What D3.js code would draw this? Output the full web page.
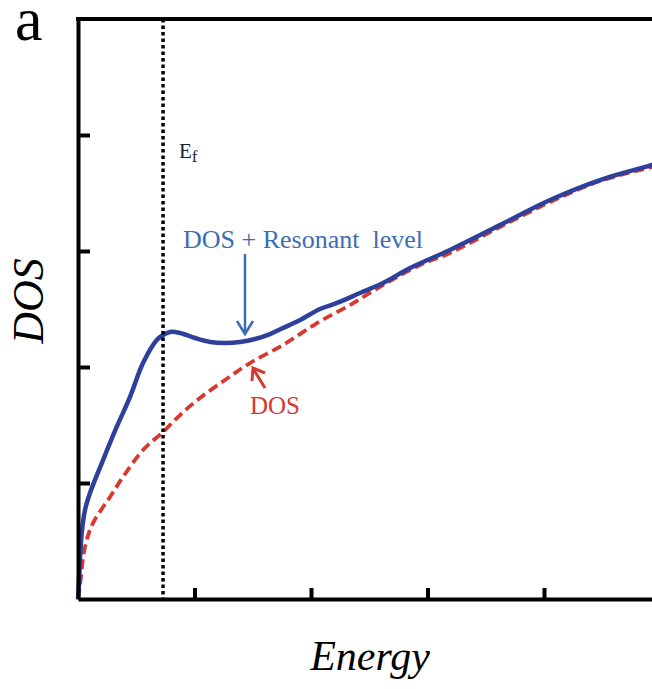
<!DOCTYPE html>
<html>
<head>
<meta charset="utf-8">
<script src="https://cdn.jsdelivr.net/npm/d3@7"></script>
<style>
  body { margin: 0; background: #fff; }
  #chart { position: relative; width: 652px; height: 689px; overflow: hidden; }
  #chart svg { position: absolute; left: 0; top: 0; display: block; }
  .lbl { position: absolute; font-family: 'Liberation Serif', serif; line-height: 1; white-space: pre; }
</style>
</head>
<body>
<div id="chart">
  <svg width="652" height="689"></svg>
</div>
<script>
// energy (arb. units) and DOS readings
var blueE = [0, 0.009, 0.017, 0.032, 0.060, 0.103, 0.215, 0.332, 0.446, 0.558, 0.676, 0.732, 0.790, 0.876, 1.004, 1.133, 1.262, 1.391, 1.519, 1.648, 1.760, 1.906, 2.077, 2.223, 2.421, 2.618, 2.850, 3.193, 3.622, 4.052, 4.481, 4.927, 5.0];
var blueDOS = [0, 0.164, 0.336, 0.569, 0.767, 0.914, 1.198, 1.483, 1.741, 2.034, 2.233, 2.276, 2.302, 2.293, 2.250, 2.216, 2.207, 2.216, 2.241, 2.284, 2.336, 2.405, 2.500, 2.552, 2.638, 2.724, 2.853, 3.009, 3.224, 3.440, 3.612, 3.741, 3.76];

var redE = [0, 0.017, 0.060, 0.129, 0.275, 0.386, 0.558, 0.730, 0.876, 1.047, 1.262, 1.476, 1.760, 2.052, 2.335, 2.618, 2.936, 3.193, 3.622, 4.052, 4.481, 4.927, 5.0];
var redDOS = [0, 0.121, 0.448, 0.655, 0.879, 1.052, 1.284, 1.440, 1.586, 1.733, 1.888, 2.034, 2.190, 2.379, 2.534, 2.707, 2.879, 2.983, 3.207, 3.422, 3.603, 3.724, 3.745];

var xTicks = [1, 2, 3, 4];
var yTicks = [1, 2, 3, 4];
var fermiE = 0.73;

var svg = d3.select("svg");
var chart = d3.select("#chart");

var x = d3.scaleLinear().domain([0, 5]).range([78, 660.5]);
var y = d3.scaleLinear().domain([0, 5]).range([599, 19]);

var line = d3.line()
  .x(function (d) { return x(d[0]); })
  .y(function (d) { return y(d[1]); })
  .curve(d3.curveCatmullRom.alpha(0.5));

// red dashed: plain DOS
svg.append("path")
  .datum(d3.zip(redE, redDOS))
  .attr("d", line)
  .attr("fill", "none")
  .attr("stroke", "#d9382e")
  .attr("stroke-width", 3.8)
  .attr("stroke-dasharray", "10,5");

// blue solid: DOS + resonant level
svg.append("path")
  .datum(d3.zip(blueE, blueDOS))
  .attr("d", line)
  .attr("fill", "none")
  .attr("stroke", "#2f3f9c")
  .attr("stroke-width", 4.5);

// Fermi level
svg.append("line")
  .attr("x1", x(fermiE)).attr("x2", x(fermiE))
  .attr("y1", y(5)).attr("y2", y(0))
  .attr("stroke", "#000")
  .attr("stroke-width", 3.5)
  .attr("stroke-dasharray", "3.5,3");

// frame + inward ticks
var xAxis = svg.append("g")
  .attr("transform", "translate(0," + y(0) + ")")
  .call(d3.axisBottom(x).tickValues(xTicks).tickSizeInner(-11).tickSizeOuter(0).tickFormat(""));
var yAxis = svg.append("g")
  .attr("transform", "translate(" + x(0) + ",0)")
  .call(d3.axisLeft(y).tickValues(yTicks).tickSizeInner(-12).tickSizeOuter(0).tickFormat(""));
svg.append("line")
  .attr("x1", x(0) - 2).attr("x2", x(5) + 2)
  .attr("y1", y(5)).attr("y2", y(5))
  .attr("stroke", "#000").attr("stroke-width", 4);
svg.append("line")
  .attr("x1", x(5)).attr("x2", x(5))
  .attr("y1", y(5)).attr("y2", y(0))
  .attr("stroke", "#000").attr("stroke-width", 4);

[xAxis, yAxis].forEach(function (g) {
  g.select(".domain").attr("stroke-width", 4);
  g.selectAll(".tick line").attr("stroke-width", 4);
});

// annotation arrows
svg.append("line")
  .attr("x1", 245).attr("x2", 245).attr("y1", 254).attr("y2", 333)
  .attr("stroke", "#3c6cb4").attr("stroke-width", 2.5);
svg.append("path")
  .attr("d", "M237,321 L245,334 L253,321")
  .attr("fill", "none").attr("stroke", "#3c6cb4").attr("stroke-width", 2.5);

svg.append("line")
  .attr("x1", 265).attr("x2", 254).attr("y1", 388).attr("y2", 370)
  .attr("stroke", "#d23a30").attr("stroke-width", 3);
svg.append("path")
  .attr("d", "M252,381 L253,368 L265,373")
  .attr("fill", "none").attr("stroke", "#d23a30").attr("stroke-width", 3);

// text labels as html, placed by baseline (line-height 1 -> baseline ~0.8375em below top)
function label(txt, bx, by, size, opts) {
  opts = opts || {};
  var div = chart.append("div")
    .attr("class", "lbl")
    .style("left", bx + "px")
    .style("top", (by - 0.8375 * size) + "px")
    .style("font-size", size + "px")
    .style("color", opts.color || "#000")
    .style("font-style", opts.italic ? "italic" : "normal");
  if (opts.center) div.style("transform", "translateX(-50%)");
  div.text(txt);
  return div;
}

var aLbl = label("a", 15, 41, 62);
aLbl.style("line-height", "0.6").style("top", (41 - 0.6375 * 62) + "px");

var ef = label("E", 179, 159, 21, {color: "#1c1c30"});
ef.append("span")
  .style("font-size", "17px")
  .style("vertical-align", "-4px")
  .text("f");

label("DOS + Resonant  level", 183, 249, 26, {color: "#3c6cb4"});
label("DOS", 250, 414, 25, {color: "#d23a30"});
label("Energy", 370, 670, 42, {italic: true, center: true});

chart.append("div")
  .attr("class", "lbl")
  .style("left", "44px")
  .style("top", "301px")
  .style("font-size", "44px")
  .style("font-style", "italic")
  .style("transform-origin", "0 0")
  .style("transform", "rotate(-90deg) translate(-50%, -0.8375em)")
  .text("DOS");
</script>
</body>
</html>
